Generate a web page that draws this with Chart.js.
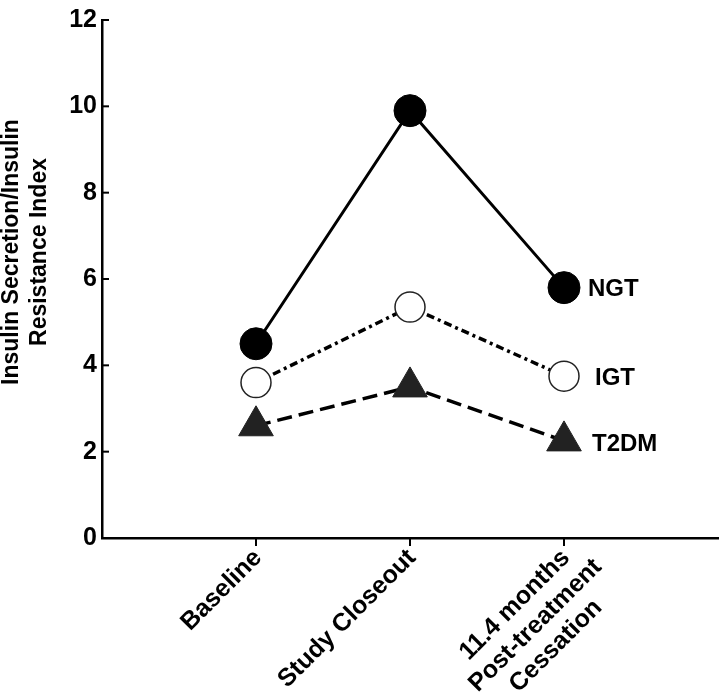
<!DOCTYPE html>
<html>
<head>
<meta charset="utf-8">
<script src="https://cdn.jsdelivr.net/npm/chart.js@4.4.0/dist/chart.umd.min.js"></script>
<style>
    html, body { margin: 0; padding: 0; background: #fff; }
    #wrap { width: 720px; height: 699px; position: relative; }
</style>
</head>
<body>
<div id="wrap"><canvas id="line-chart"></canvas></div>
<script>
// data
var timepoints = [['Baseline'], ['Study Closeout'], ['11.4 months', 'Post-treatment', 'Cessation']];
var seriesNames = ['NGT', 'IGT', 'T2DM'];
var ngtValues = [4.5, 9.9, 5.8];
var igtValues = [3.6, 5.35, 3.75];
var t2dmValues = [2.6, 3.5, 2.25];
var yTicks = [0, 2, 4, 6, 8, 10, 12];
var yTitle = ['Insulin Secretion/Insulin', 'Resistance Index'];

var FONT = 'Arial, "Liberation Sans", sans-serif';

function toPoints(values) {
    return values.map(function (v, i) { return { x: i, y: v }; });
}

// axis ticks, rotated x labels, series names and y title
var figureDecor = {
    id: 'figureDecor',
    afterDraw: function (chart) {
        var ctx = chart.ctx;
        var xs = chart.scales.x;
        var ys = chart.scales.y;
        var area = chart.chartArea;
        ctx.save();
        ctx.strokeStyle = '#000';
        ctx.lineWidth = 2;

        // y ticks point inward
        yTicks.forEach(function (t) {
            var py = ys.getPixelForValue(t);
            ctx.beginPath();
            ctx.moveTo(area.left, py);
            ctx.lineTo(area.left + 7, py);
            ctx.stroke();
        });

        // x ticks point outward
        timepoints.forEach(function (lbl, i) {
            var px = xs.getPixelForValue(i);
            ctx.beginPath();
            ctx.moveTo(px, area.bottom);
            ctx.lineTo(px, area.bottom + 8);
            ctx.stroke();
        });

        // rotated category labels
        ctx.fillStyle = '#000';
        ctx.font = 'bold 25px ' + FONT;
        ctx.textAlign = 'center';
        ctx.textBaseline = 'middle';
        timepoints.forEach(function (lines, i) {
            var px = xs.getPixelForValue(i);
            var w0 = ctx.measureText(lines[0]).width;
            ctx.save();
            ctx.translate(px + 2, area.bottom + 16);
            ctx.rotate(-Math.PI / 4);
            lines.forEach(function (line, k) {
                ctx.fillText(line, -w0 / 2, k * 29);
            });
            ctx.restore();
        });

        // series names next to last point
        ctx.font = 'bold 24px ' + FONT;
        ctx.textAlign = 'left';
        chart.data.datasets.forEach(function (ds, d) {
            var meta = chart.getDatasetMeta(d);
            var last = meta.data[meta.data.length - 1];
            ctx.fillText(seriesNames[d], last.x + ds.nameGap, last.y + ds.nameShift);
        });

        // y axis title
        ctx.font = 'bold 23px ' + FONT;
        ctx.textAlign = 'center';
        ctx.save();
        ctx.translate(26, 252);
        ctx.rotate(-Math.PI / 2);
        yTitle.forEach(function (line, k) {
            ctx.fillText(line, 0, (k - 0.5) * 28);
        });
        ctx.restore();

        ctx.restore();
    }
};

var ctx = document.getElementById('line-chart').getContext('2d');
var myChart = new Chart(ctx, {
    type: 'line',
    data: {
        datasets: [{
            label: seriesNames[0],
            data: toPoints(ngtValues),
            borderColor: '#000',
            borderWidth: 3,
            pointStyle: 'circle',
            pointRadius: 16,
            pointBackgroundColor: '#000',
            pointBorderColor: '#000',
            pointBorderWidth: 1,
            nameGap: 24,
            nameShift: 2
        }, {
            label: seriesNames[1],
            data: toPoints(igtValues),
            borderColor: '#000',
            borderWidth: 3.5,
            borderDash: [8, 4, 3, 4],
            pointStyle: 'circle',
            pointRadius: 15,
            pointBackgroundColor: '#fff',
            pointBorderColor: '#222',
            pointBorderWidth: 1.5,
            nameGap: 31,
            nameShift: 2
        }, {
            label: seriesNames[2],
            data: toPoints(t2dmValues),
            borderColor: '#000',
            borderWidth: 3.5,
            borderDash: [15, 7],
            pointStyle: 'triangle',
            pointRadius: 20,
            pointBackgroundColor: '#222',
            pointBorderColor: '#222',
            pointBorderWidth: 1,
            nameGap: 28,
            nameShift: 3
        }]
    },
    options: {
        responsive: true,
        maintainAspectRatio: false,
        animation: false,
        events: [],
        clip: false,
        layout: {
            autoPadding: false,
            padding: { left: 0, top: 15, right: 2, bottom: 0 }
        },
        plugins: {
            legend: { display: false },
            tooltip: { enabled: false }
        },
        scales: {
            x: {
                type: 'linear',
                min: -1,
                max: 3,
                grid: { display: false },
                border: { display: true, color: '#000', width: 2.5 },
                ticks: { display: false },
                afterFit: function (scale) { scale.height = 161; }
            },
            y: {
                min: 0,
                max: 12,
                grid: { display: false, drawTicks: false },
                border: { display: true, color: '#000', width: 2.5 },
                ticks: {
                    stepSize: 2,
                    padding: 5,
                    color: '#000',
                    font: { family: FONT, size: 25, weight: 'bold' }
                },
                afterFit: function (scale) { scale.width = 102; }
            }
        }
    },
    plugins: [figureDecor]
});
</script>
</body>
</html>
